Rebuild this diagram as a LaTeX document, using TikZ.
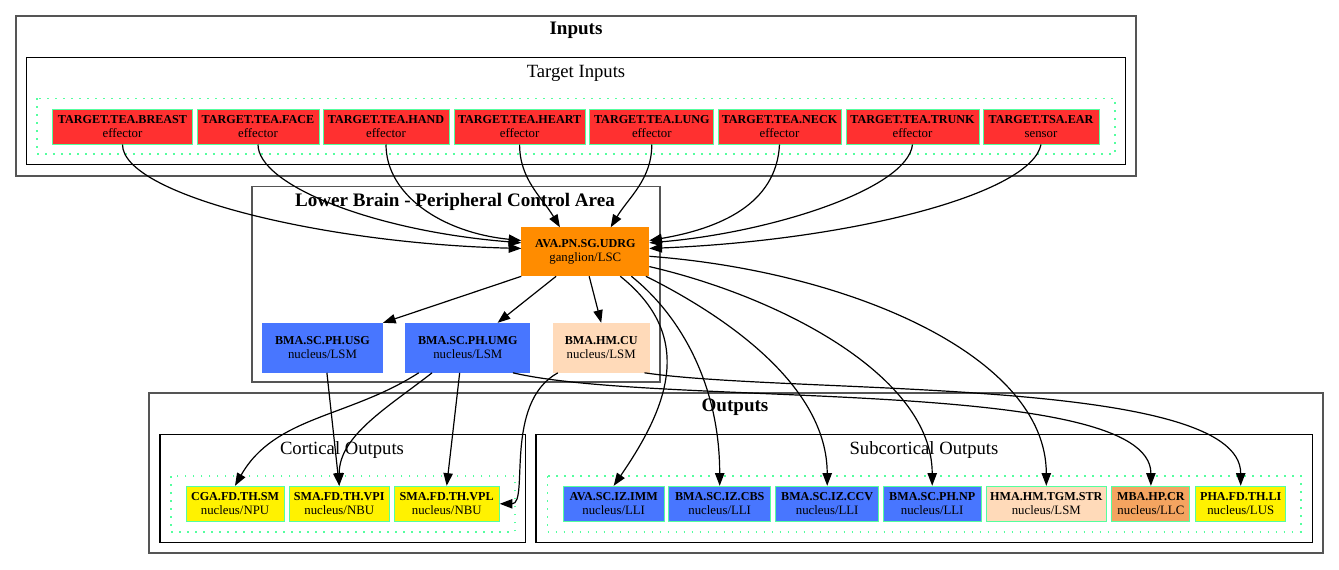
\documentclass[tikz,border=0pt]{standalone}
\usepackage{fontspec}
\setmainfont{Liberation Serif}
\usepackage{xcolor}
\usepackage{tikz}
\usetikzlibrary{arrows.meta, positioning}
\definecolor{effred}{RGB}{255, 48, 48}
\definecolor{brainblue}{RGB}{72, 118, 255}
\definecolor{ganglion}{RGB}{255, 140, 0}
\definecolor{peach}{RGB}{255, 218, 185}
\definecolor{sandy}{RGB}{244, 164, 96}
\definecolor{poolgreen}{RGB}{84, 255, 159}
\definecolor{regiongray}{RGB}{85, 85, 85}

\newcommand{\nlabel}[2]{{\fontsize{9.1}{10.5}\selectfont\bfseries #1}\\#2}

\tikzset{
    region/.style={draw=regiongray, line width=1.1pt},
    group/.style={draw=black, line width=0.8pt},
    pool/.style={draw=poolgreen, line width=1.2pt, dash pattern=on 1.3pt off 4.7pt},
    cell/.style={rectangle, draw=poolgreen, line width=0.75pt, inner sep=0pt,
        minimum height=35*0.75pt, align=center, font=\fontsize{9.6}{10.5}\selectfont},
    wd/.style={minimum width=#1*0.75pt},
    heading/.style={anchor=base, font=\fontsize{14}{15}\selectfont},
    headbold/.style={anchor=base, font=\fontsize{14.3}{15}\selectfont\bfseries},
    flow/.style={-{Triangle[length=9.5pt, width=7pt]}, line width=0.9pt}
}

\begin{document}
\begin{tikzpicture}[x=0.75pt, y=-0.75pt]
    \useasboundingbox (0,0) rectangle (1339,569);

    % Clusters
    \draw[region] (16,16) rectangle (1136,176);
    \draw[group] (26.7,57.3) rectangle (1125.7,164.7);
    \draw[pool] (36.7,98.3) rectangle (1115,154);
    \draw[region] (252,186.7) rectangle (660,382);
    \draw[region] (149,393) rectangle (1323,553);
    \draw[group] (160,434.3) rectangle (525.7,542.7);
    \draw[pool] (171,476) rectangle (515,531.7);
    \draw[group] (536,434.3) rectangle (1312.3,542.7);
    \draw[pool] (547.3,476) rectangle (1301,531.7);

    % Cluster titles
    \node[headbold] (inputsTitle) at (576,34.5) {Inputs};
    \node[heading] (targetTitle) at (576,77.5) {Target Inputs};
    \node[headbold] (brainTitle) at (455,206) {Lower Brain - Peripheral Control Area};
    \node[headbold] (outputsTitle) at (735,411.5) {Outputs};
    \node[heading] (corticalTitle) at (342,454.3) {Cortical Outputs};
    \node[heading] (subcorticalTitle) at (924,454.3) {Subcortical Outputs};

    % Target inputs
    \foreach \n/\x/\w/\txt/\kind in {breast/122.5/139.6/TARGET.TEA.BREAST/effector,
            face/258/122/TARGET.TEA.FACE/effector, hand/386/126/TARGET.TEA.HAND/effector,
            heart/519.6/131/TARGET.TEA.HEART/effector, lung/651.8/123.7/TARGET.TEA.LUNG/effector,
            neck/779.5/123/TARGET.TEA.NECK/effector, trunk/912.5/133/TARGET.TEA.TRUNK/effector,
            ear/1041/116/TARGET.TSA.EAR/sensor} {
        \node[cell, fill=effred, wd=\w] (\n) at (\x,126.5) {\nlabel{\txt}{\kind}};
    }

    % Lower brain
    \node[cell, fill=ganglion, draw=ganglion, wd=127, minimum height=48*0.75pt] (udrg) at (585.3,251.8) {\nlabel{AVA.PN.SG.UDRG}{ganglion/LSC}};
    \node[cell, fill=brainblue, draw=brainblue, wd=120, minimum height=49*0.75pt] (usg) at (322.5,347.8) {\nlabel{BMA.SC.PH.USG}{nucleus/LSM}};
    \node[cell, fill=brainblue, draw=brainblue, wd=124, minimum height=49*0.75pt] (umg) at (467.8,347.8) {\nlabel{BMA.SC.PH.UMG}{nucleus/LSM}};
    \node[cell, fill=peach, draw=peach, wd=96, minimum height=49*0.75pt] (cu) at (601.2,347.8) {\nlabel{BMA.HM.CU}{nucleus/LSM}};

    % Cortical outputs
    \node[cell, fill=yellow, wd=98] (sm) at (235,503.8) {\nlabel{CGA.FD.TH.SM}{nucleus/NPU}};
    \node[cell, fill=yellow, wd=100] (vpi) at (339.2,503.8) {\nlabel{SMA.FD.TH.VPI}{nucleus/NBU}};
    \node[cell, fill=yellow, wd=105] (vpl) at (446.7,503.8) {\nlabel{SMA.FD.TH.VPL}{nucleus/NBU}};

    % Subcortical outputs
    \node[cell, fill=brainblue, wd=101] (imm) at (613.7,503.8) {\nlabel{AVA.SC.IZ.IMM}{nucleus/LLI}};
    \node[cell, fill=brainblue, wd=102] (cbs) at (719.7,503.8) {\nlabel{BMA.SC.IZ.CBS}{nucleus/LLI}};
    \node[cell, fill=brainblue, wd=103] (ccv) at (827.2,503.8) {\nlabel{BMA.SC.IZ.CCV}{nucleus/LLI}};
    \node[cell, fill=brainblue, wd=98] (np) at (932.2,503.8) {\nlabel{BMA.SC.PH.NP}{nucleus/LLI}};
    \node[cell, fill=peach, wd=120] (str) at (1046.3,503.8) {\nlabel{HMA.HM.TGM.STR}{nucleus/LSM}};
    \node[cell, fill=sandy, wd=78] (cr) at (1150.9,503.8) {\nlabel{MBA.HP.CR}{nucleus/LLC}};
    \node[cell, fill=yellow, wd=90] (li) at (1240.7,503.8) {\nlabel{PHA.FD.TH.LI}{nucleus/LUS}};

    % Inputs into the ganglion
    \draw[flow] (breast.south) .. controls +(0,50) and +(-200,-5) .. (udrg.177);
    \draw[flow] (face.south) .. controls +(0,40) and +(-150,-12) .. (udrg.172);
    \draw[flow] (hand.south) .. controls +(0,50) and +(-80,-8) .. (udrg.170);
    \draw[flow] (heart.south) .. controls +(0,35) and +(-18,-30) .. (udrg.136);
    \draw[flow] (lung.south) .. controls +(0,35) and +(18,-30) .. (udrg.44);
    \draw[flow] (neck.south) .. controls +(-3,60) and +(70,-12) .. (udrg.10);
    \draw[flow] (trunk.south) .. controls +(-5,45) and +(120,-10) .. (udrg.8);
    \draw[flow] (ear.south) .. controls +(-10,50) and +(200,-8) .. (udrg.3);

    % Ganglion to lower brain and outputs
    \draw[flow] (udrg.south west) -- (usg.north east);
    \draw[flow] (udrg.220) -- (umg.40);
    \draw[flow] (udrg.-81) -- (cu.north);
    \draw[flow] (udrg.-35) .. controls +(75,60) and +(55,-80) .. (imm.north);
    \draw[flow] (udrg.-28) .. controls +(50,40) and +(0,-100) .. (cbs.north);
    \draw[flow] (udrg.-22) .. controls +(80,40) and +(0,-100) .. (ccv.north);
    \draw[flow] (udrg.-13) .. controls +(130,30) and +(0,-110) .. (np.north);
    \draw[flow] (udrg.-4) .. controls +(200,15) and +(0,-130) .. (str.north);

    % Lower brain to outputs
    \draw[flow] (usg.-80) -- (vpi.north);
    \draw[flow] (umg.207) .. controls +(-70,45) and +(40,-70) .. (sm.north);
    \draw[flow] (umg.215) .. controls +(-45,35) and +(0,-50) .. (vpi.north);
    \draw[flow] (umg.252) -- (vpl.north);
    \draw[flow] (umg.-29) .. controls +(150,35) and +(0,-110) .. (cr.north);
    \draw[flow] (cu.210) .. controls +(-55,30) and +(30,0) .. (vpl.east);
    \draw[flow] (cu.-30) .. controls +(150,22) and +(0,-110) .. (li.north);
\end{tikzpicture}
\end{document}
